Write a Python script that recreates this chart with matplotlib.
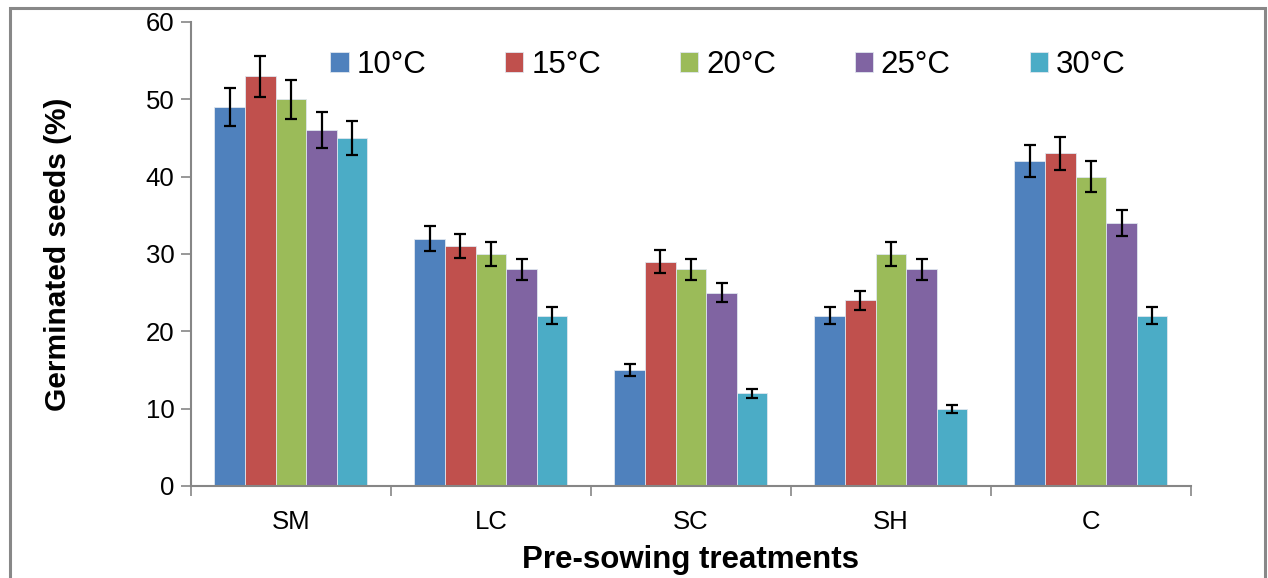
import numpy as np
import matplotlib.pyplot as plt
from matplotlib.patches import Rectangle

plt.rcParams['font.family'] = ['Liberation Sans', 'DejaVu Sans']

treatments = ["SM", "LC", "SC", "SH", "C"]
temps = ["10°C", "15°C", "20°C", "25°C", "30°C"]
colors = ["#4F81BD", "#C0504D", "#9BBB59", "#8064A2", "#4BACC6"]

# germinated seeds (%) per temperature, one value per treatment
germ_10 = [49, 32, 15, 22, 42]
germ_15 = [53, 31, 29, 24, 43]
germ_20 = [50, 30, 28, 30, 40]
germ_25 = [46, 28, 25, 28, 34]
germ_30 = [45, 22, 12, 10, 22]

err_10 = [2.45, 1.6, 0.75, 1.1, 2.1]
err_15 = [2.65, 1.55, 1.45, 1.2, 2.15]
err_20 = [2.5, 1.5, 1.4, 1.5, 2.0]
err_25 = [2.3, 1.4, 1.25, 1.4, 1.7]
err_30 = [2.25, 1.1, 0.6, 0.5, 1.1]

series = [germ_10, germ_15, germ_20, germ_25, germ_30]
errors = [err_10, err_15, err_20, err_25, err_30]

fig = plt.figure(figsize=(12.68, 5.78), dpi=100)
ax = fig.add_axes([0.1506, 0.1592, 0.7886, 0.8028])

x = np.arange(len(treatments))
w = 0.153
for i, (vals, errs) in enumerate(zip(series, errors)):
    pos = x + (i - 2) * w
    ax.bar(pos, vals, w, color=colors[i], edgecolor="#dfe6ee", linewidth=0.6,
           label=temps[i], zorder=2)
    ax.errorbar(pos, vals, yerr=errs, fmt="none", ecolor="black",
                elinewidth=1.6, capsize=4.4, capthick=1.6, zorder=3)

ax.set_xlim(-0.5, len(treatments) - 0.5)
ax.set_ylim(0, 60)
ax.set_yticks(range(0, 61, 10))
ax.set_xticks(x)
ax.set_xticklabels(treatments)
ax.set_xticks(np.arange(-0.5, len(treatments)), minor=True)
ax.tick_params(axis="x", which="major", length=0, pad=17, labelsize=18.5)
ax.tick_params(axis="x", which="minor", length=7, width=1.2, color="#868686")
ax.tick_params(axis="y", length=7, width=1.2, color="#868686", labelsize=18.5, pad=5)

for side in ["top", "right"]:
    ax.spines[side].set_visible(False)
for side in ["left", "bottom"]:
    ax.spines[side].set_color("#868686")
    ax.spines[side].set_linewidth(1.5)

ax.set_ylabel("Germinated seeds (%)", fontsize=21.5, fontweight="bold")
ax.yaxis.set_label_coords(-0.119, 0.5)
ax.set_xlabel("Pre-sowing treatments", fontsize=22.5, fontweight="bold")
ax.xaxis.set_label_coords(0.5, -0.128)

ax.legend(loc="upper left", bbox_to_anchor=(0.127, 0.966), ncol=5, frameon=False,
          fontsize=22.5, handlelength=0.58, handleheight=0.58, handletextpad=0.25,
          columnspacing=2.53, borderaxespad=0)

# gray outer frame
fig.patches.append(Rectangle((10 / 1268, -0.02), 1255 / 1268, 1.0 - 8 / 578 + 0.02,
                             transform=fig.transFigure, fill=False,
                             edgecolor="#888888", linewidth=2.2))

fig.savefig("out.png", dpi=100)
